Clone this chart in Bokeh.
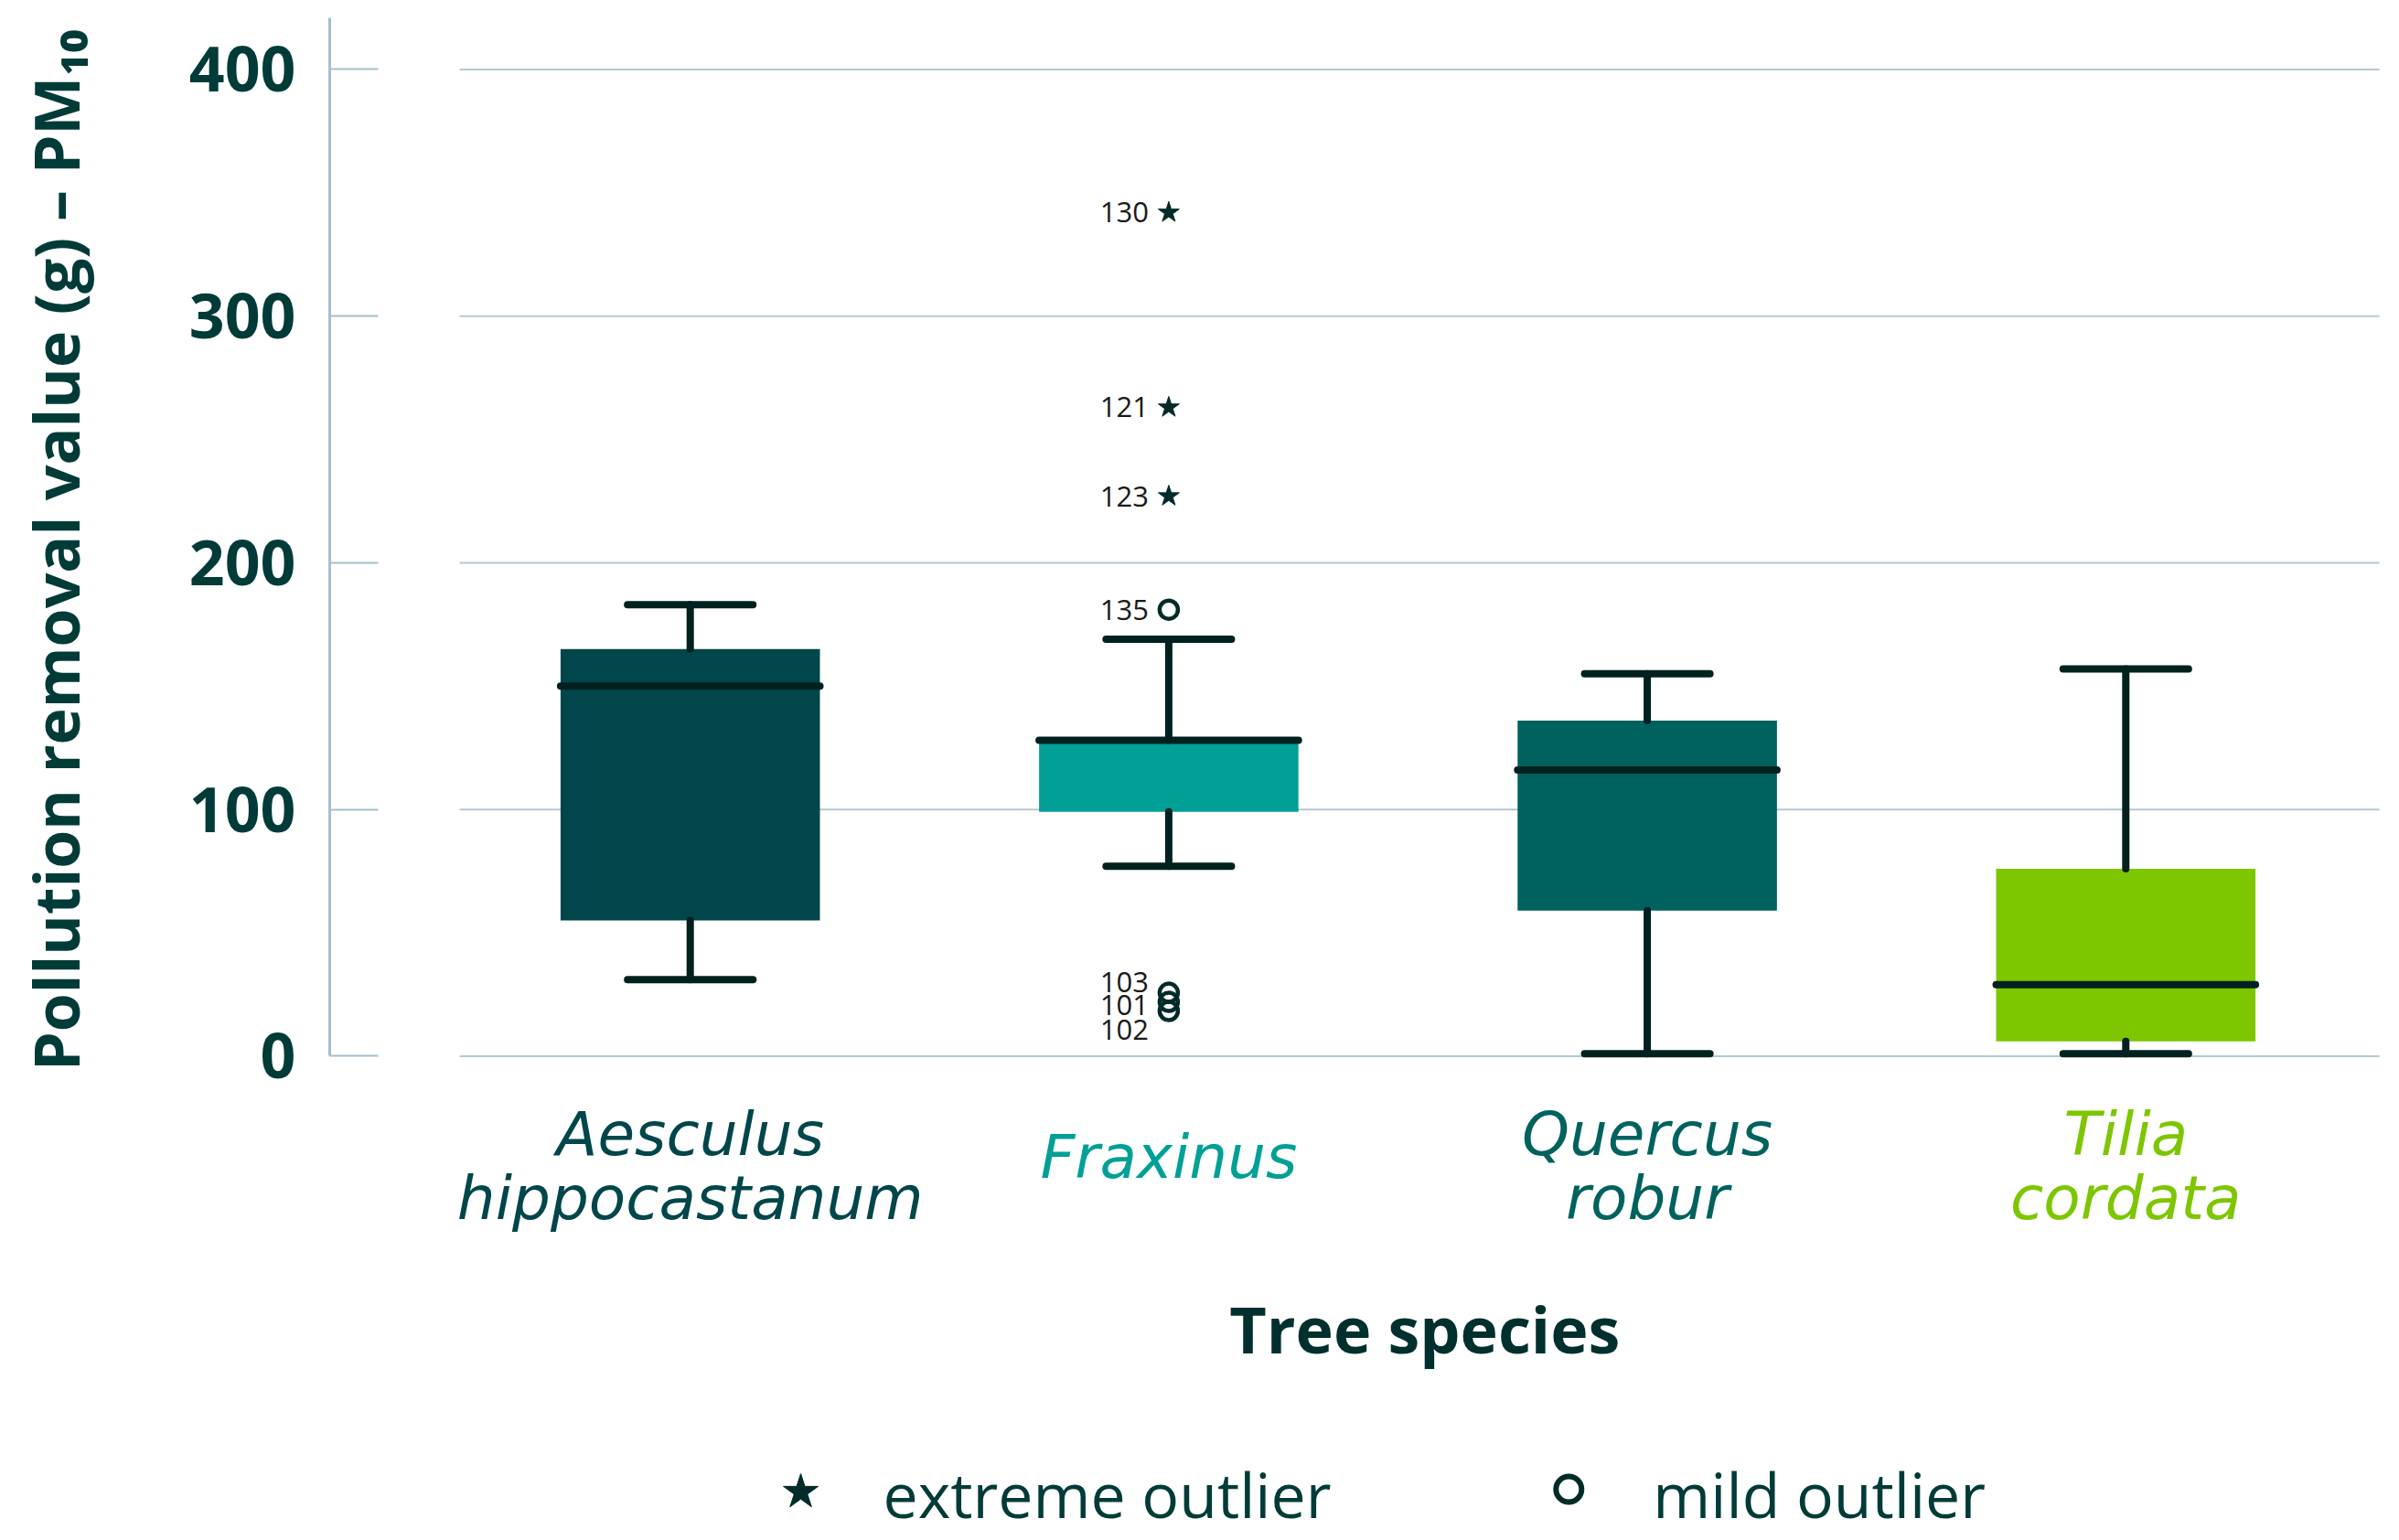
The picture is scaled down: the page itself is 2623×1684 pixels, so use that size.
from bokeh.plotting import figure
from bokeh.layouts import column
from bokeh.models import Range1d, FixedTicker
from bokeh.embed import file_html
from bokeh.resources import INLINE
from bokeh.core.properties import value

# ---------------- data ----------------
species = ["Aesculus\nhippocastanum", "Fraxinus", "Quercus\nrobur", "Tilia\ncordata"]
whisker_low = [31, 77, 1, 1]
q1 = [55, 99, 59, 6]
median = [150, 128, 116, 29]
q3 = [165, 128, 136, 76]
whisker_high = [183, 169, 155, 157]
box_colors = ["#00464A", "#00A096", "#00625E", "#7DC600"]

outlier_species = ["Fraxinus"] * 7
outlier_value = [342, 263, 227, 181, 25.7, 22.0, 18.3]
outlier_id = ["130", "121", "123", "135", "103", "101", "102"]
outlier_kind = ["extreme", "extreme", "extreme", "mild", "mild", "mild", "mild"]

y_ticks = [0, 100, 200, 300, 400]
legend_labels = ["extreme outlier", "mild outlier"]

# ---------------- layout / style constants ----------------
DARK = "#00211F"
TEXT = "#003B38"
GRID = "#B3C9D3"
AXIS = "#A3BFCB"
BOX_W = 0.542
CAP_W = 0.262
LW = 8
W = 2607
H_TOP = 1202
H_BOT = 478
LEFT = 360

names = [s.split("\n")[0] for s in species]
xs = [i + 1 for i in range(len(species))]

xr = Range1d(0.2466, 4.5413)

# ---------------- main plot ----------------
p = figure(width=W, height=H_TOP, output_backend="svg", toolbar_location=None,
           x_range=xr, y_range=Range1d(-17.65, 427.96),
           x_axis_location=None, min_border_left=LEFT, min_border_right=0,
           min_border_top=0, min_border_bottom=0)
p.outline_line_color = None
p.grid.visible = False

ax = p.yaxis[0]
ax.ticker = FixedTicker(ticks=y_ticks)
ax.bounds = (0, 421)
ax.axis_line_color = AXIS
ax.axis_line_width = 3
ax.major_tick_in = 53
ax.major_tick_out = 0
ax.major_tick_line_color = AXIS
ax.major_tick_line_width = 2
ax.minor_tick_line_color = None
ax.major_label_standoff = 37
ax.major_label_text_font = "Open Sans"
ax.major_label_text_font_style = "bold"
ax.major_label_text_font_size = "68px"
ax.major_label_text_color = TEXT
ax.axis_label = "Pollution removal value (g) – PM₁₀"
ax.axis_label_text_font = "Open Sans"
ax.axis_label_text_font_style = "bold"
ax.axis_label_text_font_size = "68px"
ax.axis_label_text_color = TEXT
ax.axis_label_standoff = 97

# grid lines (start right of the tick marks)
p.segment(x0=0.518, x1=4.53, y0=y_ticks, y1=y_ticks, line_color=GRID, line_width=2)

# boxes
p.vbar(x=xs, width=BOX_W, bottom=q1, top=q3, fill_color=box_colors, line_color=None)

# whiskers, caps, medians
p.segment(x0=xs, x1=xs, y0=whisker_low, y1=q1, line_color=DARK, line_width=LW, line_cap="round")
p.segment(x0=xs, x1=xs, y0=q3, y1=whisker_high, line_color=DARK, line_width=LW, line_cap="round")
p.segment(x0=[x - CAP_W / 2 for x in xs], x1=[x + CAP_W / 2 for x in xs], y0=whisker_low, y1=whisker_low,
          line_color=DARK, line_width=LW, line_cap="round")
p.segment(x0=[x - CAP_W / 2 for x in xs], x1=[x + CAP_W / 2 for x in xs], y0=whisker_high, y1=whisker_high,
          line_color=DARK, line_width=LW, line_cap="round")
p.segment(x0=[x - BOX_W / 2 for x in xs], x1=[x + BOX_W / 2 for x in xs], y0=median, y1=median,
          line_color=DARK, line_width=LW, line_cap="round")

# outliers
ox = [names.index(s) + 1 for s in outlier_species]
ex_x = [x for x, k in zip(ox, outlier_kind) if k == "extreme"]
ex_y = [v for v, k in zip(outlier_value, outlier_kind) if k == "extreme"]
mi_x = [x for x, k in zip(ox, outlier_kind) if k == "mild"]
mi_y = [v for v, k in zip(outlier_value, outlier_kind) if k == "mild"]
p.scatter(ex_x, ex_y, marker="star", size=24, fill_color="#002B29", line_color="#002B29")
p.scatter(mi_x, mi_y, marker="circle", size=20, fill_color=None, line_color="#002B29", line_width=4.5)

label_nudge = [0, 0, 0, 0, -12, 3, 20]  # screen px (negative = up), keeps crowded labels apart
p.text(x=ox, y=outlier_value, text=outlier_id, x_offset=-22, y_offset=label_nudge,
       text_align="right", text_baseline="middle", text_font=value("Open Sans"),
       text_font_size="31px", text_color="#1A1A1A")

# ---------------- lower panel: category labels, x title, legend ----------------
q = figure(width=W, height=H_BOT, output_backend="svg", toolbar_location=None,
           x_range=xr, y_range=Range1d(-194.85, -17.65),
           x_axis_location=None, y_axis_location=None, min_border_left=LEFT, min_border_right=0,
           min_border_top=0, min_border_bottom=0)
q.outline_line_color = None
q.grid.visible = False

first_x, first_t, first_c = [], [], []
second_x, second_t, second_c = [], [], []
single_x, single_t, single_c = [], [], []
for x, s, c in zip(xs, species, box_colors):
    parts = s.split("\n")
    if len(parts) == 2:
        first_x.append(x); first_t.append(parts[0]); first_c.append(c)
        second_x.append(x); second_t.append(parts[1]); second_c.append(c)
    else:
        single_x.append(x); single_t.append(s); single_c.append(c)

cat_style = dict(text_font=value("DejaVu Sans"), text_font_style="italic", text_font_size="66px",
                 text_align="center", text_baseline="alphabetic")
q.text(x=first_x, y=[-31.7] * len(first_x), text=first_t, text_color=first_c, **cat_style)
q.text(x=second_x, y=[-57.7] * len(second_x), text=second_t, text_color=second_c, **cat_style)
q.text(x=single_x, y=[-41.0] * len(single_x), text=single_t, text_color=single_c, **cat_style)

q.text(x=[2.535], y=[-110.5], text=["Tree species"], text_color="#00302E", text_font=value("Open Sans"),
       text_font_style="bold", text_font_size="70px", text_align="center", text_baseline="middle")

q.scatter([1.231], [-176.7], marker="star", size=40, fill_color="#002B29", line_color="#002B29")
q.scatter([2.836], [-175.6], marker="circle", size=28, fill_color=None, line_color="#002B29", line_width=6)
q.text(x=[1.403, 3.012], y=[-177.5, -177.5], text=legend_labels, text_color=TEXT, text_font=value("Open Sans"),
       text_font_size="68px", text_align="left", text_baseline="middle")

layout = column(p, q, spacing=0)
open("out.html", "w").write(file_html(layout, INLINE))
